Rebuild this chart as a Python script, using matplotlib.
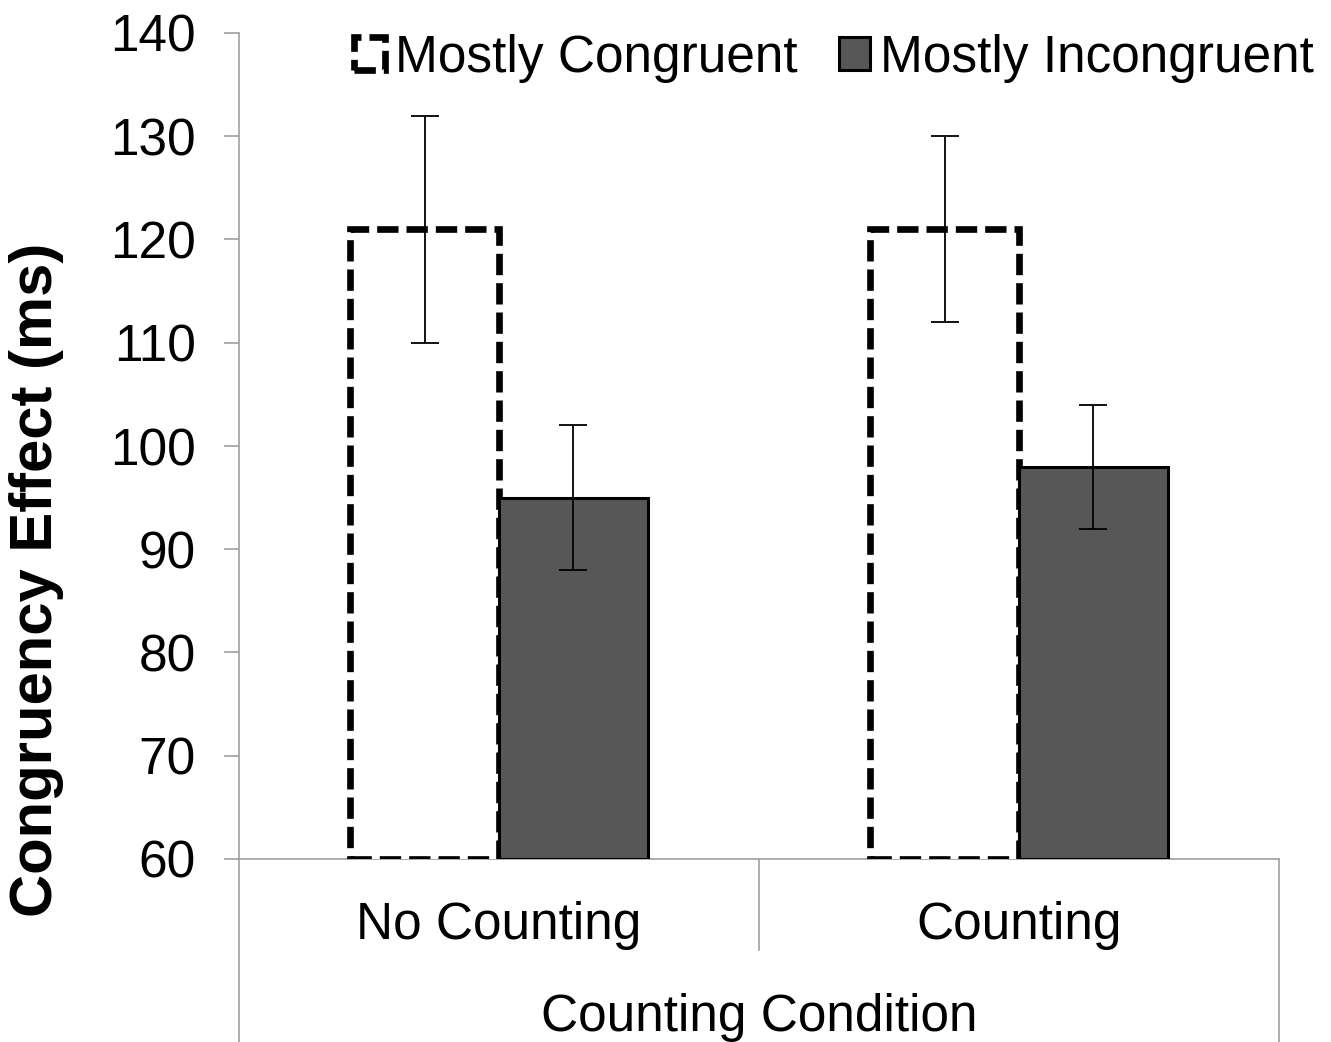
import numpy as np
import matplotlib.pyplot as plt
from matplotlib.lines import Line2D

plt.rcParams['font.family'] = ['Liberation Sans', 'DejaVu Sans']

conditions = ['No Counting', 'Counting']
series = ['Mostly Congruent', 'Mostly Incongruent']
congruent = [121, 121]
congruent_err = [11, 9]
incongruent = [95, 98]
incongruent_err = [7, 6]
yticks = [60, 70, 80, 90, 100, 110, 120, 130, 140]

fig = plt.figure(figsize=(13.31, 10.42), dpi=100)
ax = fig.add_axes([239/1331, 1 - 859/1042, 1040/1331, 826/1042])

x = np.arange(len(conditions))
w = 0.2865
base = 60

mc = ax.bar(x - w/2, np.array(congruent) - base, w, bottom=base, color='white',
            edgecolor='black', linewidth=4.8, linestyle=(0, (3.2, 1.2)),
            label=series[0], zorder=2)
mi = ax.bar(x + w/2, np.array(incongruent) - base, w, bottom=base, color='#575757',
            edgecolor='black', linewidth=2.2, label=series[1], zorder=2)

ax.errorbar(x - w/2, congruent, yerr=congruent_err, fmt='none', ecolor='black',
            elinewidth=1.3, capsize=10, capthick=1.3, zorder=3)
ax.errorbar(x + w/2, incongruent, yerr=incongruent_err, fmt='none', ecolor='black',
            elinewidth=1.3, capsize=10, capthick=1.3, zorder=3)

ax.set_xlim(-0.5, 1.5)
ax.set_ylim(60, 140)
ax.set_yticks(yticks)
ax.set_xticks([])
ax.tick_params(axis='y', length=11, width=1.2, color='#a0a0a0', pad=20, labelsize=37)

for s in ['top', 'right']:
    ax.spines[s].set_visible(False)
for s in ['left', 'bottom']:
    ax.spines[s].set_color('#a0a0a0')
    ax.spines[s].set_linewidth(1.2)
    ax.spines[s].set_zorder(1)

# category boxes below the axis
gray = '#a0a0a0'
for xf, ybot in [(0, -0.222), (0.5, -0.110), (1.0, -0.222)]:
    ax.add_line(Line2D([xf, xf], [0, ybot], transform=ax.transAxes, color=gray,
                       linewidth=1.2, clip_on=False))
for xi, name in zip(x, conditions):
    ax.text(xi, -0.081, name, transform=ax.get_xaxis_transform(), ha='center',
            va='center', fontsize=37)
ax.text(0.5, -0.192, 'Counting Condition', transform=ax.transAxes, ha='center',
        va='center', fontsize=37)

ax.set_ylabel('Congruency Effect (ms)', fontsize=43, fontweight='bold')
ax.yaxis.set_label_coords(-0.168, 0.338)

ax.legend(handles=[mc, mi], loc='upper right', bbox_to_anchor=(1.078, 1.055), ncol=2,
          frameon=False, fontsize=37, handlelength=0.6, handleheight=0.6,
          handletextpad=0.2, columnspacing=0.8)

fig.savefig('out.png', dpi=100)
